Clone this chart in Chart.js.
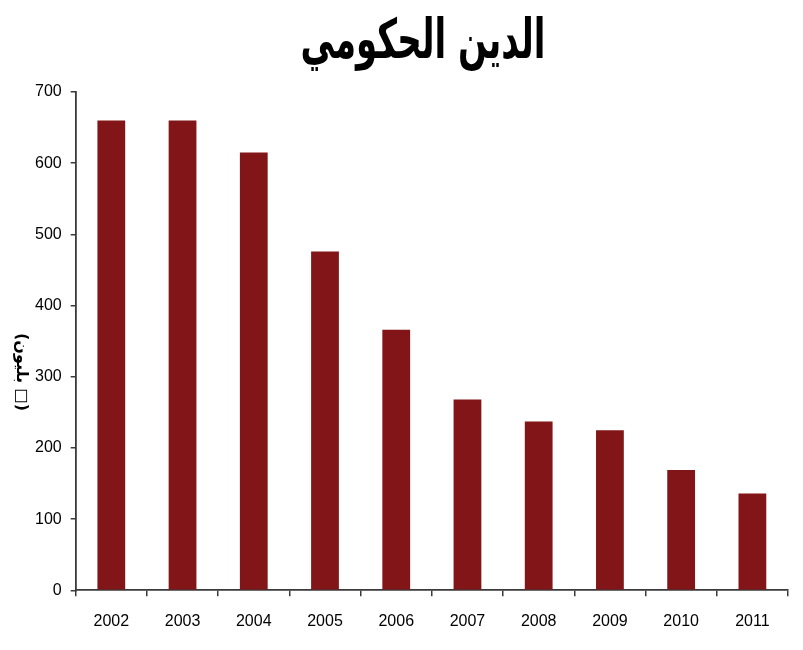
<!DOCTYPE html>
<html lang="ar">
<head>
  <meta charset="UTF-8">
  <title>الدين الحكومي</title>
  <script src="https://cdn.jsdelivr.net/npm/chart.js@4.4.0/dist/chart.umd.min.js"></script>
  <style>
    html, body { margin: 0; padding: 0; background: #fff; }
    #wrap { width: 803px; height: 650px; }
  </style>
</head>
<body>
  <div id="wrap">
    <canvas id="debtChart" width="803" height="650"></canvas>
  </div>
  <script>
    // السنوات والقيم (بليون)
    const years = ["2002", "2003", "2004", "2005", "2006", "2007", "2008", "2009", "2010", "2011"];
    const debt = [660, 660, 615, 476, 366, 268, 237, 225, 169, 136];
    const yTicks = [0, 100, 200, 300, 400, 500, 600, 700];
    const chartTitle = "الدين الحكومي";
    const yTitle = "(بليون □)";

    const barColor = "#821517";
    const axisColor = "#3a3a3a";

    // title and y-axis caption drawn by hand: title sits right of centre,
    // and the caption reads top-to-bottom (rotated clockwise)
    const captions = {
      id: "captions",
      afterDraw(chart) {
        const ctx = chart.ctx;
        ctx.save();
        ctx.fillStyle = "#000";
        ctx.font = "bold 44px 'DejaVu Sans'";
        ctx.textAlign = "center";
        ctx.textBaseline = "alphabetic";
        const m = ctx.measureText(chartTitle);
        const w = m.actualBoundingBoxLeft + m.actualBoundingBoxRight;
        const h = m.actualBoundingBoxAscent + m.actualBoundingBoxDescent;
        const sx = 241 / w, sy = 56 / h;
        ctx.translate(423, 16);
        ctx.scale(sx, sy);
        ctx.fillText(chartTitle, 0, m.actualBoundingBoxAscent);
        ctx.restore();

        ctx.save();
        ctx.fillStyle = "#000";
        ctx.font = "bold 16px 'DejaVu Sans'";
        ctx.textAlign = "center";
        ctx.textBaseline = "middle";
        ctx.translate(21, 372);
        ctx.rotate(Math.PI / 2);
        ctx.fillText(yTitle, 0, 0);
        ctx.restore();
      }
    };

    new Chart(document.getElementById("debtChart"), {
      type: "bar",
      data: {
        labels: years,
        datasets: [{
          label: chartTitle,
          data: debt,
          backgroundColor: barColor,
          categoryPercentage: 1.0,
          barPercentage: 0.39
        }]
      },
      options: {
        responsive: false,
        animation: false,
        layout: { padding: { left: 26, right: 15, top: 92, bottom: 3.5 } },
        plugins: {
          legend: { display: false },
          tooltip: { enabled: false },
          title: { display: false }
        },
        scales: {
          x: {
            offset: true,
            grid: {
              display: true,
              offset: true,
              drawOnChartArea: false,
              drawTicks: true,
              tickLength: 6,
              color: axisColor,
              lineWidth: 1.5
            },
            border: { display: true, color: axisColor, width: 1.8 },
            ticks: {
              color: "#000",
              padding: 15.5,
              font: { family: "Liberation Sans", size: 16 }
            }
          },
          y: {
            min: 0,
            max: 700,
            afterBuildTicks: (axis) => { axis.ticks = yTicks.map(v => ({ value: v })); },
            grid: {
              display: true,
              drawOnChartArea: false,
              drawTicks: true,
              tickLength: 5,
              color: axisColor,
              lineWidth: 1.5
            },
            border: { display: true, color: axisColor, width: 1.8 },
            ticks: {
              color: "#000",
              padding: 9,
              font: { family: "Liberation Sans", size: 16 }
            }
          }
        }
      },
      plugins: [captions]
    });
  </script>
</body>
</html>
